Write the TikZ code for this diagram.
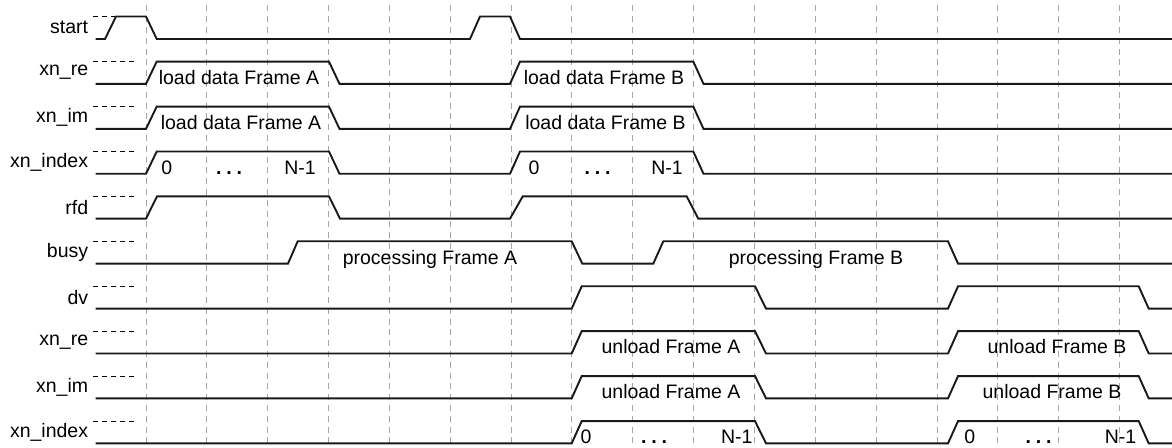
\documentclass[tikz,border=0pt]{standalone}
\usepackage{fontspec}
\setmainfont{Liberation Sans}
\begin{document}
\begin{tikzpicture}[x=0.5pt,y=-0.5pt,
  grid/.style={draw=gray!70,line width=0.5pt,dash pattern=on 3pt off 2.4pt},
  hmark/.style={draw=black,line width=0.5pt,dash pattern=on 2.3pt off 2.2pt},
  sig/.style={draw=black!90,line width=0.95pt,line join=miter},
  lbl/.style={anchor=east,inner sep=0pt,font=\fontsize{9.75}{11}\selectfont},
  txt/.style={anchor=base,inner sep=0pt,font=\fontsize{9.75}{11}\selectfont}]
\useasboundingbox (0,0) rectangle (1172,448);
% row levels (low / high)
\def\la{39}    \def\ha{16.5}
\def\lb{83.9}  \def\hb{61.6}
\def\lc{128.9} \def\hc{106.6}
\def\ld{173.8} \def\hd{151.5}
\def\le{218.7} \def\he{196.4}
\def\lf{263.6} \def\hf{241.3}
\def\lg{308.6} \def\hg{286.3}
\def\lh{353.5} \def\hh{331.2}
\def\li{398.4} \def\hi{376.1}
\def\lj{443.4} \def\hj{421.1}
% grid
\foreach \i in {0,...,16}
  \draw[grid] ({146+\i*60.85},5.5) -- ({146+\i*60.85},448);
% high-level markers
\foreach \h in {\ha,\hb,\hc,\hd,\he,\hf,\hg,\hh,\hi,\hj}
  \draw[hmark] (93.3,\h) -- (135,\h);
% labels
\node[lbl] (Lstart) at (88.5,{\la-11.4}) {start};
\node[lbl] (Lre)    at (88.5,{\lb-11.4}) {xn\_re};
\node[lbl] (Lim)    at (88.5,{\lc-11.4}) {xn\_im};
\node[lbl] (Lidx)   at (88.5,{\ld-11.4}) {xn\_index};
\node[lbl] (Lrfd)   at (88.5,{\le-11.4}) {rfd};
\node[lbl] (Lbusy)  at (88.5,{\lf-11.4}) {busy};
\node[lbl] (Ldv)    at (88.5,{\lg-11.4}) {dv};
\node[lbl] (Lore)   at (88.5,{\lh-11.4}) {xn\_re};
\node[lbl] (Loim)   at (88.5,{\li-11.4}) {xn\_im};
\node[lbl] (Loidx)  at (88.5,{\lj-11.4}) {xn\_index};
% start
\draw[sig] (95.5,\la) -- (105,\la) -- (116,\ha) -- (146,\ha) -- (156.7,\la)
  -- (470,\la) -- (480,\ha) -- (510,\ha) -- (520,\la) -- (1172,\la);
% xn_re, xn_im, xn_index (input)
\foreach \l/\h in {\lb/\hb,\lc/\hc,\ld/\hd}
  \draw[sig] (95.5,\l) -- (146,\l) -- (156.7,\h) -- (329,\h) -- (339.5,\l)
    -- (510,\l) -- (520,\h) -- (693.3,\h) -- (703.5,\l) -- (1172,\l);
% rfd
\draw[sig] (95.5,\le) -- (146,\le) -- (157,\he) -- (329,\he) -- (340,\le)
  -- (510,\le) -- (522.7,\he) -- (686.7,\he) -- (698.3,\le) -- (1172,\le);
% busy
\draw[sig] (95.5,\lf) -- (288,\lf) -- (297.7,\hf) -- (571.7,\hf) -- (582.3,\lf)
  -- (653.3,\lf) -- (663.3,\hf) -- (948,\hf) -- (958,\lf) -- (1172,\lf);
% dv and outputs
\foreach \l/\h in {\lg/\hg,\lh/\hh,\li/\hi,\lj/\hj}
  \draw[sig] (95.5,\l) -- (571.7,\l) -- (581.7,\h) -- (755,\h) -- (766,\l)
    -- (948,\l) -- (958,\h) -- (1138.7,\h) -- (1148.7,\l) -- (1172,\l);
% texts
\def\dotsx{\textbf{.\kern2.4pt.\kern2.4pt.}}
\node[txt] (reA) at (239,{\lb+1}) {load data Frame A};
\node[txt] (reB) at (604,{\lb+1}) {load data Frame B};
\node[txt] (imA) at (241,{\lc+1}) {load data Frame A};
\node[txt] (imB) at (605.5,{\lc+1}) {load data Frame B};
\node[txt] (ia0) at (166.7,{\ld+1}) {0};
\node[txt] (iad) at (229,{\ld+1}) {\dotsx};
\node[txt] (ian) at (300,{\ld+1}) {N-1};
\node[txt] (ib0) at (534,{\ld+1}) {0};
\node[txt] (ibd) at (597.5,{\ld+1}) {\dotsx};
\node[txt] (ibn) at (667,{\ld+1}) {N-1};
\node[txt] (pA) at (430,{\lf+1}) {processing Frame A};
\node[txt] (pB) at (816,{\lf+1}) {processing Frame B};
\node[txt] (uReA) at (671,{\lh+0.5}) {unload Frame A};
\node[txt] (uReB) at (1057,{\lh+0.5}) {unload Frame B};
\node[txt] (uImA) at (671,{\li+0.5}) {unload Frame A};
\node[txt] (uImB) at (1052,{\li+0.5}) {unload Frame B};
\node[txt] (oa0) at (586,{\lj+0.5}) {0};
\node[txt] (oad) at (654,{\lj+0.5}) {\dotsx};
\node[txt] (oan) at (736.7,{\lj+0.5}) {N-1};
\node[txt] (ob0) at (969.7,{\lj+0.5}) {0};
\node[txt] (obd) at (1038.5,{\lj+0.5}) {\dotsx};
\node[txt] (obn) at (1120.5,{\lj+0.5}) {N-1};
\end{tikzpicture}
\end{document}
